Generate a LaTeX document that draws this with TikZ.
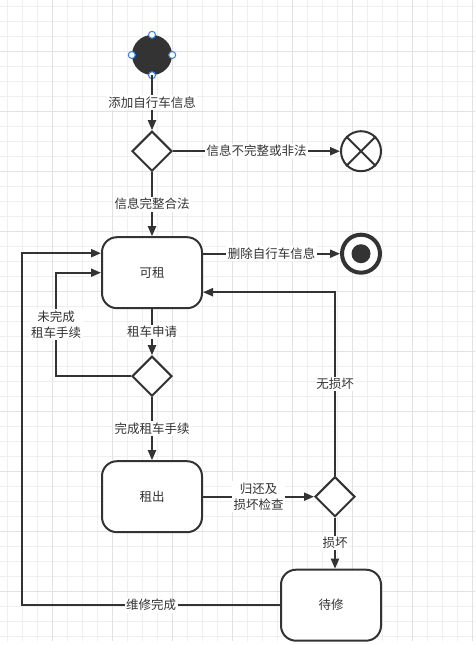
\documentclass[tikz,border=0pt]{standalone}
\usepackage{fontspec}
\setmainfont{Noto Sans CJK SC}
\usetikzlibrary{shapes.geometric, arrows.meta, positioning, calc}
\definecolor{ink}{HTML}{333333}
\definecolor{gridminor}{HTML}{EFEFEF}
\definecolor{gridmajor}{HTML}{E2E2E2}
\definecolor{handleblue}{HTML}{2F80ED}
\tikzset{
  state/.style    ={draw=ink, line width=2pt, rounded corners=15pt, fill=white,
                    minimum width=100pt, minimum height=71pt, text=ink,
                    font=\fontsize{12.5}{15}\selectfont},
  choice/.style   ={diamond, draw=ink, line width=2pt, fill=white,
                    minimum width=40pt, minimum height=40pt, inner sep=0pt},
  startnode/.style={circle, fill=ink, minimum size=40pt, inner sep=0pt},
  handle/.style   ={circle, draw=handleblue, fill=white, line width=1pt,
                    minimum size=7pt, inner sep=0pt},
  stopnode/.style ={circle, draw=ink, line width=2pt, fill=white,
                    minimum size=40pt, inner sep=0pt},
  finalnode/.style={circle, draw=ink, line width=4pt, fill=white,
                    minimum size=38pt, inner sep=0pt},
  finaldot/.style ={circle, fill=ink, minimum size=19pt, inner sep=0pt},
  flow/.style     ={-{Triangle[length=10pt,width=8pt]}, line width=2pt, draw=ink},
  lbl/.style      ={fill=white, text=ink, font=\fontsize{12.5}{16}\selectfont,
                    inner sep=1.5pt, align=center}
}
\begin{document}
\begin{tikzpicture}[x=1pt, y=1pt]
  % background grid
  \useasboundingbox (0,0) rectangle (475,-645);
  \fill[white] (0,0) rectangle (475,-645);
  \foreach \gx in {7,22,...,472} \draw[gridminor] (\gx,0) -- (\gx,-641);
  \foreach \gy in {6,21,...,636} \draw[gridminor] (0,-\gy) -- (475,-\gy);
  \foreach \gx in {52,112,...,472} \draw[gridmajor] (\gx,0) -- (\gx,-641);
  \foreach \gy in {51,111,...,591} \draw[gridmajor] (0,-\gy) -- (475,-\gy);

  % nodes
  \node[startnode]                        (start) at (152,-55) {};
  \node[choice, below=55 of start]        (d1) {};
  \node[stopnode, right=167 of d1]        (stop) {};
  \node[state, below=64 of d1]            (kezu) {可租};
  \node[finalnode, right=137 of kezu, yshift=19] (fin) {};
  \node[finaldot]                         (fin-dot) at (fin) {};
  \node[choice, below=46 of kezu]         (d2) {};
  \node[state, below=63 of d2]            (zuchu) {租出};
  \node[choice, right=111 of zuchu]       (d3) {};
  \node[state, below=51 of d3, xshift=-4] (daixiu) {待修};

  \draw[ink, line width=2pt] (stop.north east) -- (stop.south west)
                             (stop.north west) -- (stop.south east);
  \foreach \a in {north,south,east,west}
    \node[handle] (h-\a) at (start.\a) {};

  % transitions
  \draw[flow] (start) -- node[lbl]{添加自行车信息} (d1);
  \draw[flow] (d1) -- node[lbl]{信息不完整或非法} (stop);
  \draw[flow] (d1) -- node[lbl]{信息完整合法} (kezu);
  \draw[flow] (kezu.east |- fin) -- node[lbl]{删除自行车信息} (fin);
  \draw[flow] (kezu) -- node[lbl]{租车申请} (d2);
  \draw[flow] (d2.west) -- ++(-75,0) |- node[lbl, pos=0.25]{未完成\\租车手续} (kezu.west);
  \draw[flow] (d2) -- node[lbl]{完成租车手续} (zuchu);
  \draw[flow] (zuchu) -- node[lbl]{归还及\\损坏检查} (d3);
  \draw[flow] (d3.north) |- node[lbl, pos=0.25]{无损坏} ($(kezu.east)+(0,-19.5)$);
  \draw[flow] (d3) -- node[lbl]{损坏} (d3 |- daixiu.north);
  \draw[flow] (daixiu.west) -- node[lbl]{维修完成} ++(-258,0) |- ($(kezu.west)+(0,19.5)$);
\end{tikzpicture}
\end{document}
